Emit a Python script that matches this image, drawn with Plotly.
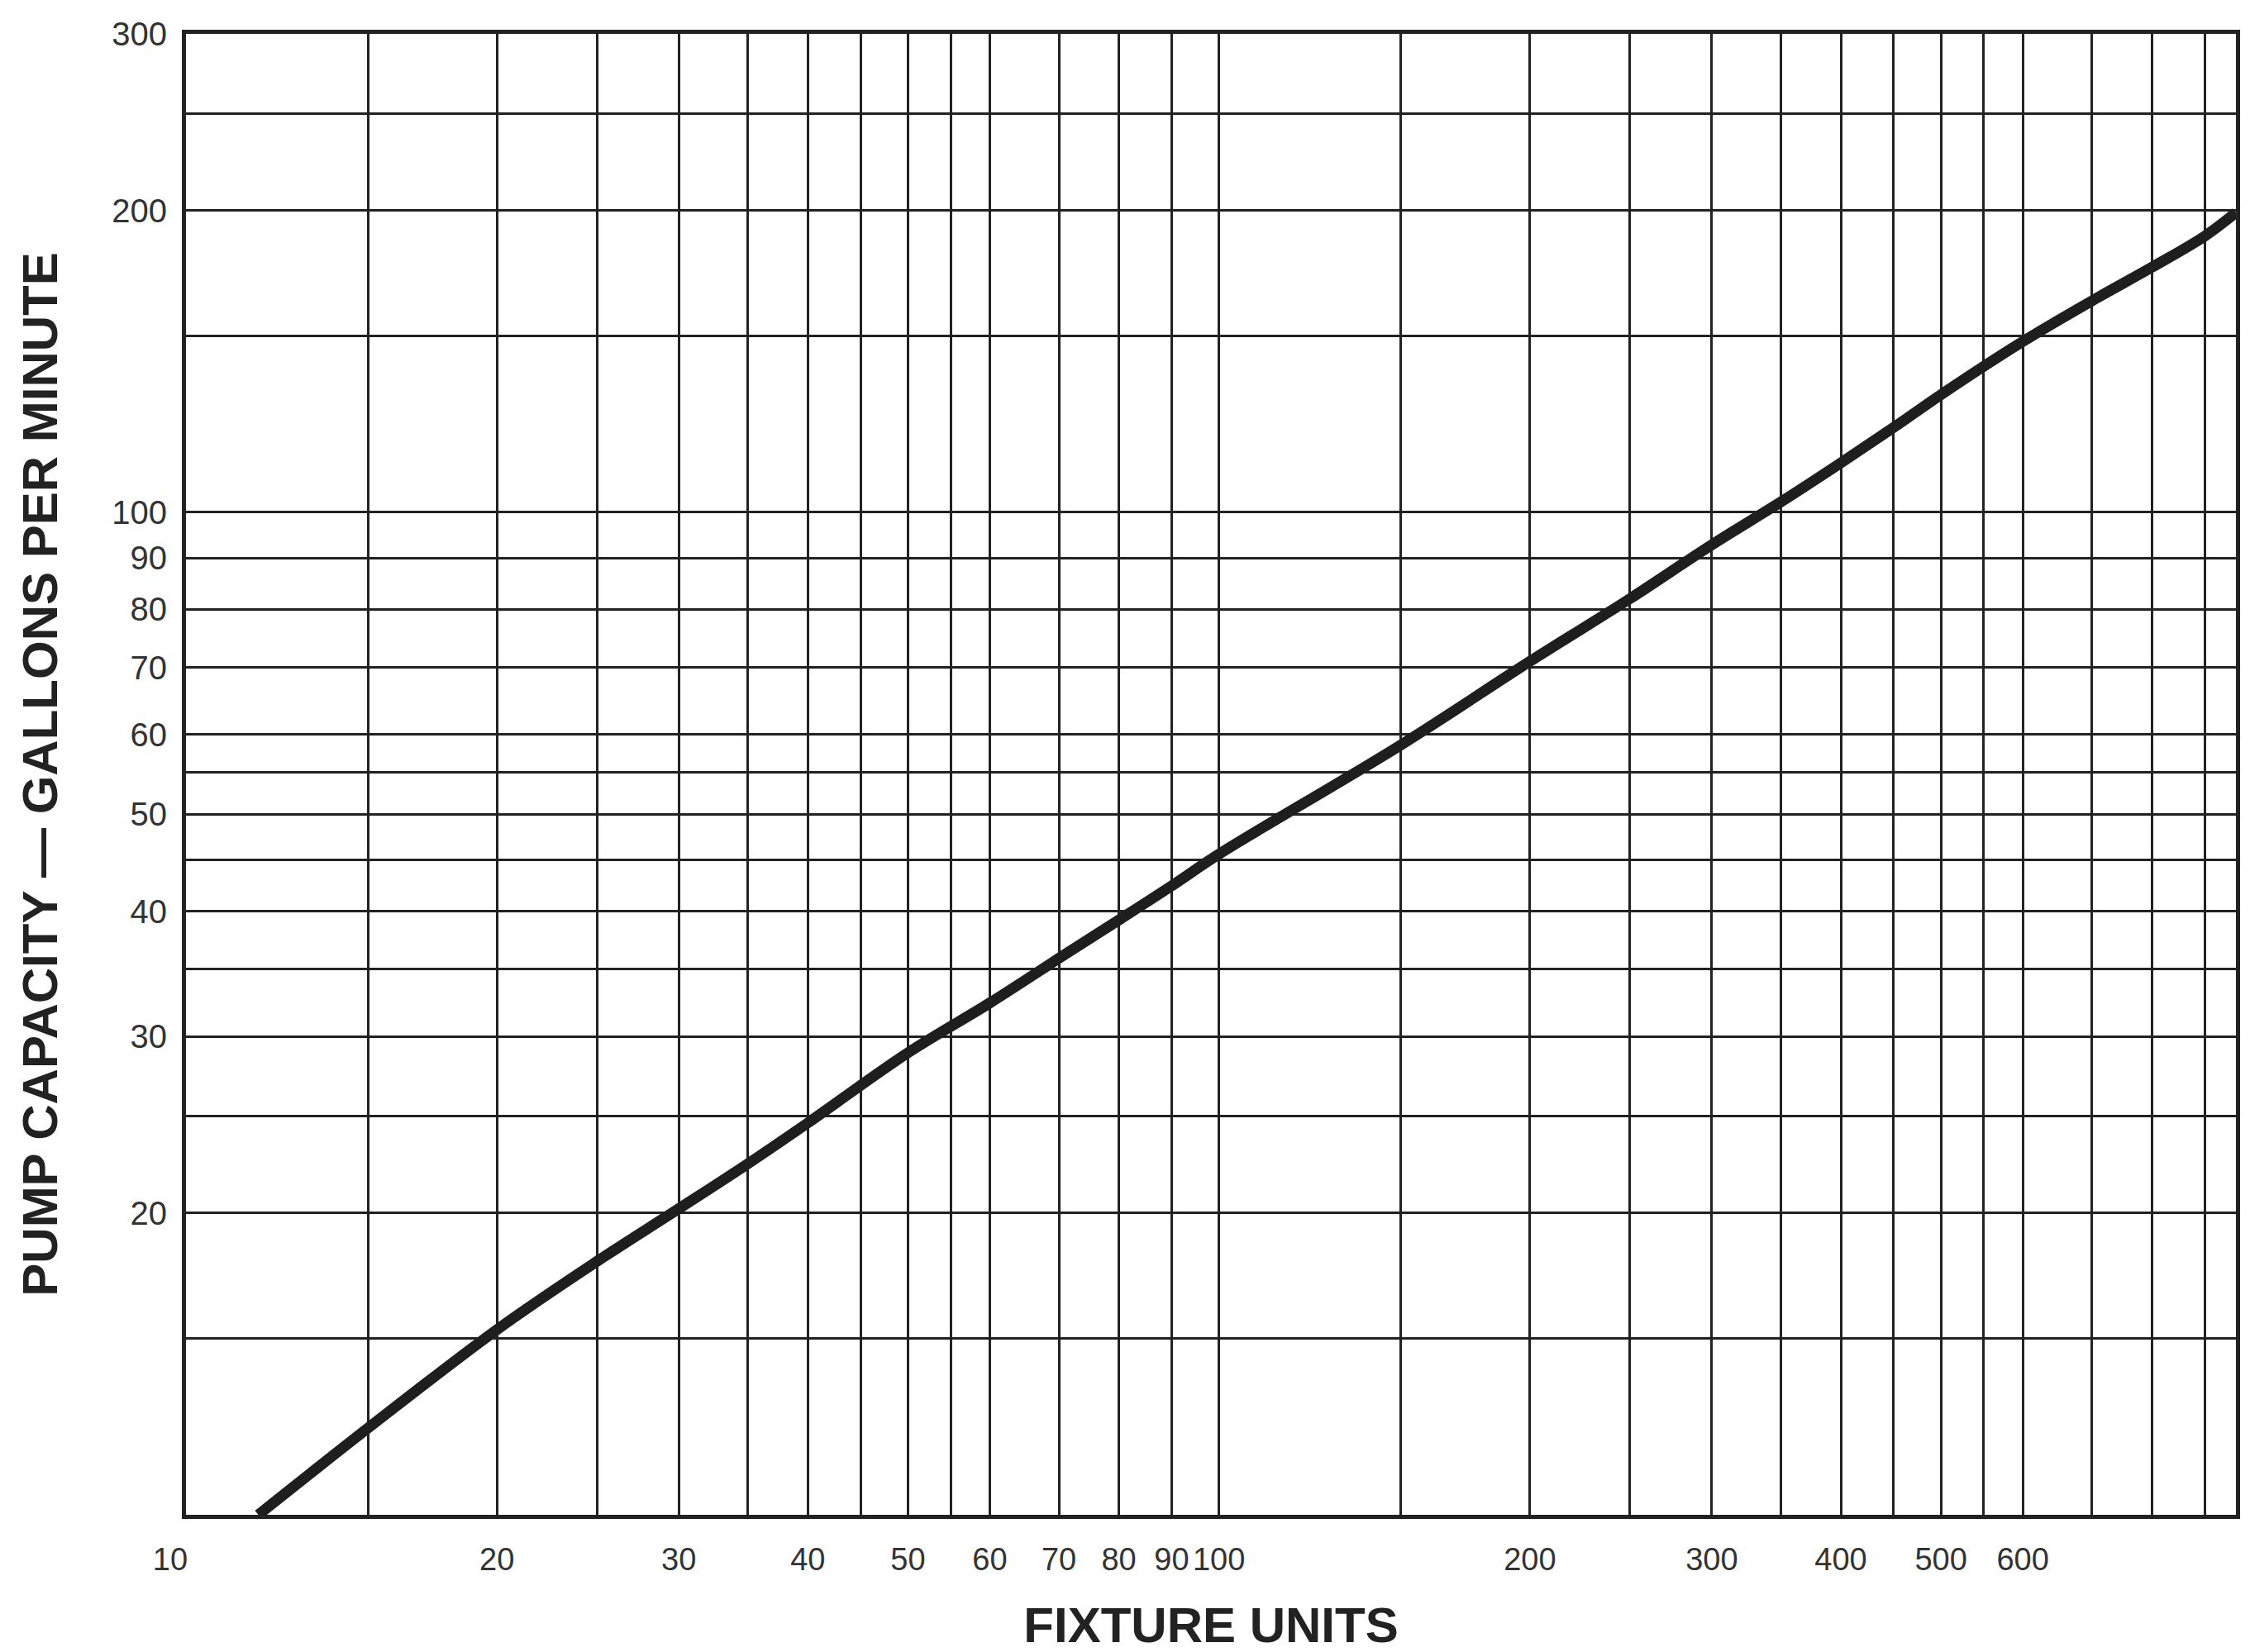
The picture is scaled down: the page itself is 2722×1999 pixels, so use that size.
import math
import plotly.graph_objects as go

# Curve (fixture units -> pump capacity gpm)
fixture_units = [11.75, 15, 20, 25, 30, 35, 40, 50, 60, 70, 80, 90, 100,
                 150, 200, 250, 300, 350, 400, 450, 500, 600, 700, 800, 900, 965]
pump_gpm = [10, 12.2, 15.3, 17.9, 20.2, 22.4, 24.6, 28.9, 32.4, 35.9, 39.2, 42.4, 45.6,
            58.6, 71, 82, 92.8, 102.4, 112, 121.5, 131, 148, 162.5, 175.5, 188.5, 199]

# Grid lines and tick labels
x_grid = [10, 15, 20, 25, 30, 35, 40, 45, 50, 55, 60, 70, 80, 90, 100,
          150, 200, 250, 300, 350, 400, 450, 500, 550, 600, 700, 800, 900]
x_labels = {10: "10\u2003", 20: "20", 30: "30", 40: "40", 50: "50", 60: "60", 70: "70",
            80: "80", 90: "90", 100: "100", 200: "200", 300: "300", 400: "400",
            500: "500", 600: "600"}
y_grid = [10, 15, 20, 25, 30, 35, 40, 45, 50, 55, 60, 70, 80, 90, 100, 150, 200, 250, 300]
y_labeled = [20, 30, 40, 50, 60, 70, 80, 90, 100, 200, 300]

x_title = "FIXTURE UNITS"
y_title = "PUMP CAPACITY — GALLONS PER MINUTE"

x_text = [x_labels.get(v, "") for v in x_grid]
y_text = [str(v) if v in y_labeled else "" for v in y_grid]

INK = "#222222"
FONT = "Liberation Sans, Arial, sans-serif"
x_tick_font = dict(family=FONT, size=38, color="#333333")
y_tick_font = dict(family=FONT, size=40, color="#333333")
title_font = dict(family=FONT, size=60, color=INK, weight="bold")

fig = go.Figure()
fig.add_trace(go.Scatter(
    x=fixture_units, y=pump_gpm, mode="lines",
    line=dict(color="#1e1e1e", width=13, shape="spline", smoothing=1.0),
    showlegend=False, hoverinfo="x+y",
))

fig.update_layout(
    width=2722, height=1999,
    margin=dict(l=217, r=25, t=33, b=174),
    paper_bgcolor="white", plot_bgcolor="white",
    xaxis=dict(
        type="log", range=[math.log10(10), math.log10(965)],
        tickmode="array", tickvals=x_grid, ticktext=x_text,
        showgrid=True, gridcolor=INK, gridwidth=3,
        showline=True, linecolor=INK, linewidth=5, mirror=True,
        ticks="", tickfont=x_tick_font, tickangle=0, ticklabelstandoff=16,
        zeroline=False, automargin=False,
        title=dict(text=x_title, font=title_font, standoff=40),
    ),
    yaxis=dict(
        type="log", range=[math.log10(10), math.log10(300)],
        tickmode="array", tickvals=y_grid, ticktext=y_text,
        showgrid=True, gridcolor=INK, gridwidth=3,
        showline=True, linecolor=INK, linewidth=5, mirror=True,
        ticks="", tickfont=y_tick_font, tickangle=0, ticklabelstandoff=10,
        zeroline=False, automargin=False,
        title=dict(text=y_title, font=title_font, standoff=48),
    ),
)

fig.write_html("out.html")
